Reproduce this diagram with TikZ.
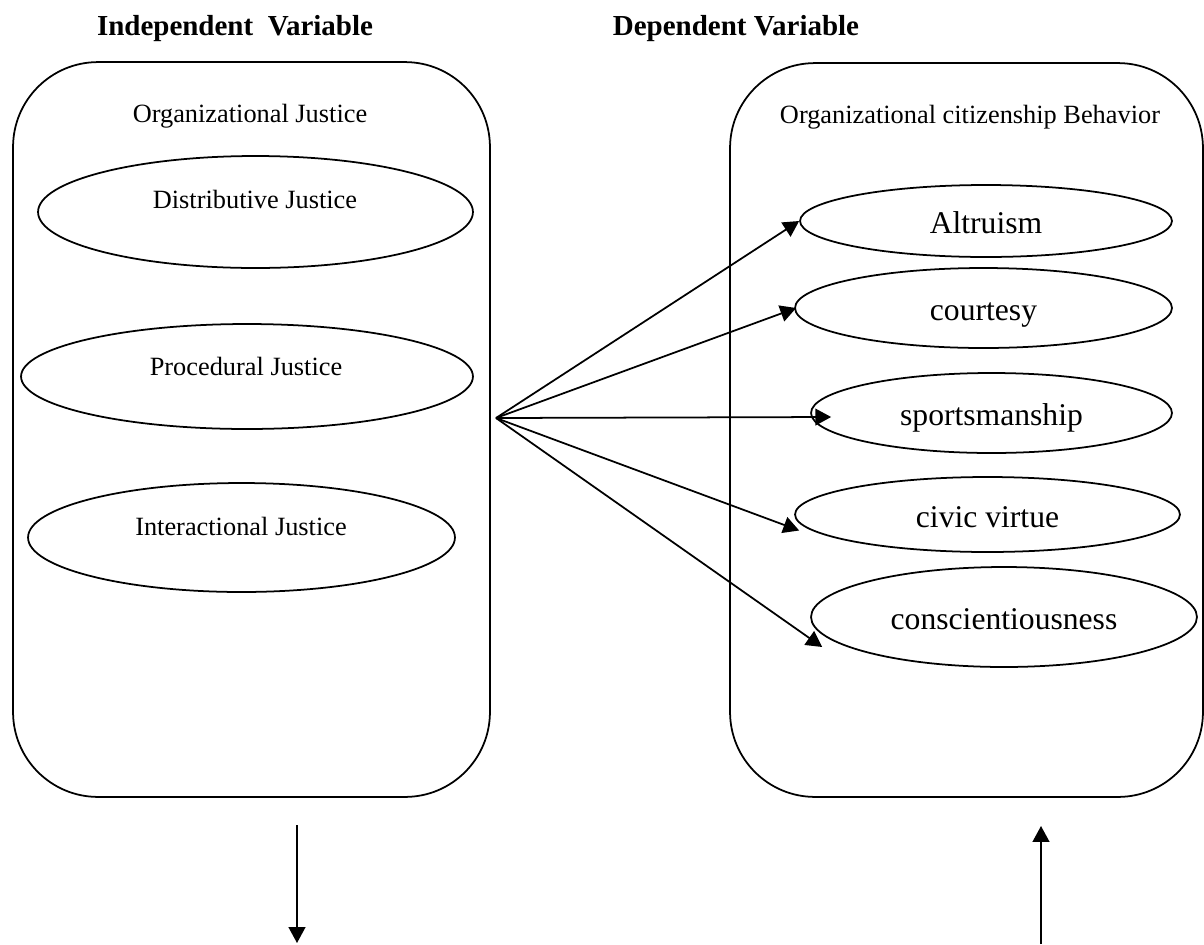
\documentclass[tikz,border=0pt]{standalone}
\usepackage{fontspec}
\setmainfont{Liberation Serif}
\usetikzlibrary{arrows.meta}
\usetikzlibrary{shapes.geometric}
\tikzset{>={Triangle[length=9pt,width=9.5pt]}}
\tikzset{
    varbox/.style={draw, line width=1pt, rounded corners=1.7cm, inner sep=0},
    dimoval/.style={draw, ellipse, line width=1pt, inner sep=0},
    vartitle/.style={font=\fontsize{16.5}{20}\selectfont\bfseries, anchor=base},
    varcaption/.style={font=\fontsize{15}{18}\selectfont, anchor=base},
    bigoval/.style={dimoval, font=\fontsize{18}{22}\selectfont, text height=14.4pt, text depth=0pt},
}

\begin{document}
\begin{tikzpicture}[x=0.02cm, y=-0.02cm, line width=1pt] % justice and citizenship model
	\useasboundingbox (0,0) rectangle (1204,944);
	\node[vartitle] (ivt) at (235,35) {Independent\ \ Variable};
	\node[vartitle] (dvt) at (736,35) {Dependent Variable};
	% independent side
	\node[varbox, minimum width=9.54cm, minimum height=14.7cm] (oj) at (251.5,429.5) {};
	\node[varcaption] (ojt) at (250,122) {Organizational Justice};
	\node[dimoval, minimum width=8.7cm, minimum height=2.24cm] (dj) at (255.5,212) {};
	\node[varcaption] (djt) at (255,208) {Distributive Justice};
	\node[dimoval, minimum width=9.04cm, minimum height=2.1cm] (pj) at (247,376.5) {};
	\node[varcaption] (pjt) at (246,375) {Procedural Justice};
	\node[dimoval, minimum width=8.54cm, minimum height=2.18cm] (ij) at (241.5,537.5) {};
	\node[varcaption] (ijt) at (241,535) {Interactional Justice};
	% dependent side
	\node[varbox, minimum width=9.46cm, minimum height=14.68cm] (ocb) at (966.5,430) {};
	\node[varcaption] (ocbt) at (970,123) {Organizational citizenship Behavior};
	\node[bigoval, minimum width=7.44cm, minimum height=1.44cm] (alt) at (986,221) {Altruism};
	\node[bigoval, minimum width=7.54cm, minimum height=1.6cm] (cou) at (983.5,308) {courtesy};
	\node[bigoval, minimum width=7.22cm, minimum height=1.6cm] (spo) at (991.5,413) {sportsmanship};
	\node[bigoval, minimum width=7.7cm, minimum height=1.5cm] (civ) at (987.5,514.5) {civic virtue};
	\node[bigoval, minimum width=7.72cm, minimum height=2cm] (con) at (1004,617) {conscientiousness};
	% fan of arrows
	\coordinate (hub) at (496,418);
	\draw[->] (hub) -- (alt.west);
	\draw[->] (hub) -- ([shift={(2,0)}]cou.west);
	\draw[->] (hub) -- ([shift={(21,4)}]spo.west);
	\draw[->] (hub) -- ([shift={(5,16)}]civ.west);
	\draw[->] (hub) -- ([shift={(12,30)}]con.west);
	% vertical arrows below the boxes
	\coordinate (ojout) at (297,825);
	\coordinate (ojend) at (297,943);
	\draw[->] (ojout) -- (ojend);
	\coordinate (ocbstart) at (1041,944);
	\coordinate (ocbin) at (1041,826);
	\draw[->] (ocbstart) -- (ocbin);
\end{tikzpicture}
\end{document}
